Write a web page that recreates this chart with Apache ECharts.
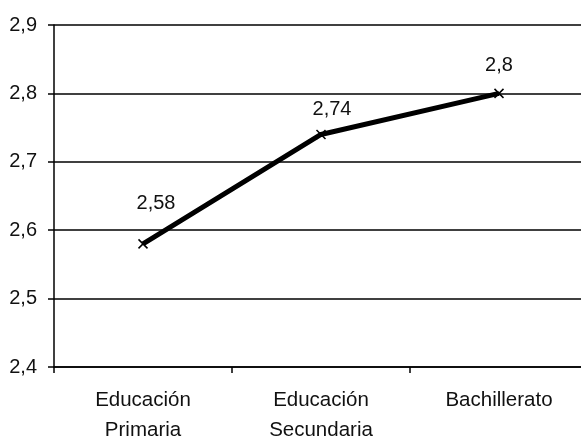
<!DOCTYPE html>
<html>
<head>
<meta charset="utf-8">
<script src="https://cdn.jsdelivr.net/npm/echarts@6/dist/echarts.min.js"></script>
<style>
  html, body { margin: 0; padding: 0; background: #fff; }
  #chart { width: 581px; height: 443px; }
</style>
</head>
<body>
<div id="chart"></div>
<script>
// Mean score by level of education
var categories = ['Educación\nPrimaria', 'Educación\nSecundaria', 'Bachillerato'];
var values = [2.58, 2.74, 2.8];
var yTicks = { min: 2.4, max: 2.9, interval: 0.1 };

// label nudges (x, y) per point, in pixels
var labelNudge = [[13, -25], [11, -10], [0, -13]];

function comma(v) { return String(v).replace('.', ','); }

var FONT = 'Liberation Sans, Arial, sans-serif';

var chart = echarts.init(document.getElementById('chart'), null, { renderer: 'canvas' });
chart.setOption({
  animation: false,
  backgroundColor: '#ffffff',
  // plot runs slightly past the right edge of the canvas
  grid: { left: 54, top: 25, width: 534, height: 342, outerBoundsMode: 'none', containLabel: false },
  xAxis: {
    type: 'category',
    data: categories,
    boundaryGap: true,
    axisLine: { lineStyle: { color: '#000', width: 1.5 } },
    axisTick: { show: true, length: 6, alignWithLabel: false, lineStyle: { color: '#000', width: 1.5 } },
    axisLabel: { color: '#111', fontFamily: FONT, fontSize: 20.5, lineHeight: 30, margin: 18, interval: 0 },
    splitLine: { show: false }
  },
  yAxis: {
    type: 'value',
    min: yTicks.min,
    max: yTicks.max,
    interval: yTicks.interval,
    axisLine: { show: true, lineStyle: { color: '#000', width: 1.5 } },
    axisTick: { show: true, length: 6, lineStyle: { color: '#000', width: 1.5 } },
    axisLabel: {
      color: '#111', fontFamily: FONT, fontSize: 20, margin: 17,
      formatter: function (v) { return v.toFixed(1).replace('.', ','); }
    },
    splitLine: { show: true, lineStyle: { color: '#000', width: 1.5 } }
  },
  series: [{
    type: 'line',
    data: values.map(function (v, i) {
      return { value: v, label: { offset: labelNudge[i] } };
    }),
    lineStyle: { color: '#000', width: 5 },
    symbol: 'path://M0,0L10,10M10,0L0,10',
    symbolSize: 9,
    itemStyle: { color: '#000', borderColor: '#000', borderWidth: 1.5 },
    label: {
      show: true,
      position: 'top',
      distance: 0,
      color: '#111',
      fontFamily: FONT,
      fontSize: 20,
      formatter: function (p) { return comma(p.value); }
    }
  }]
});
</script>
</body>
</html>
